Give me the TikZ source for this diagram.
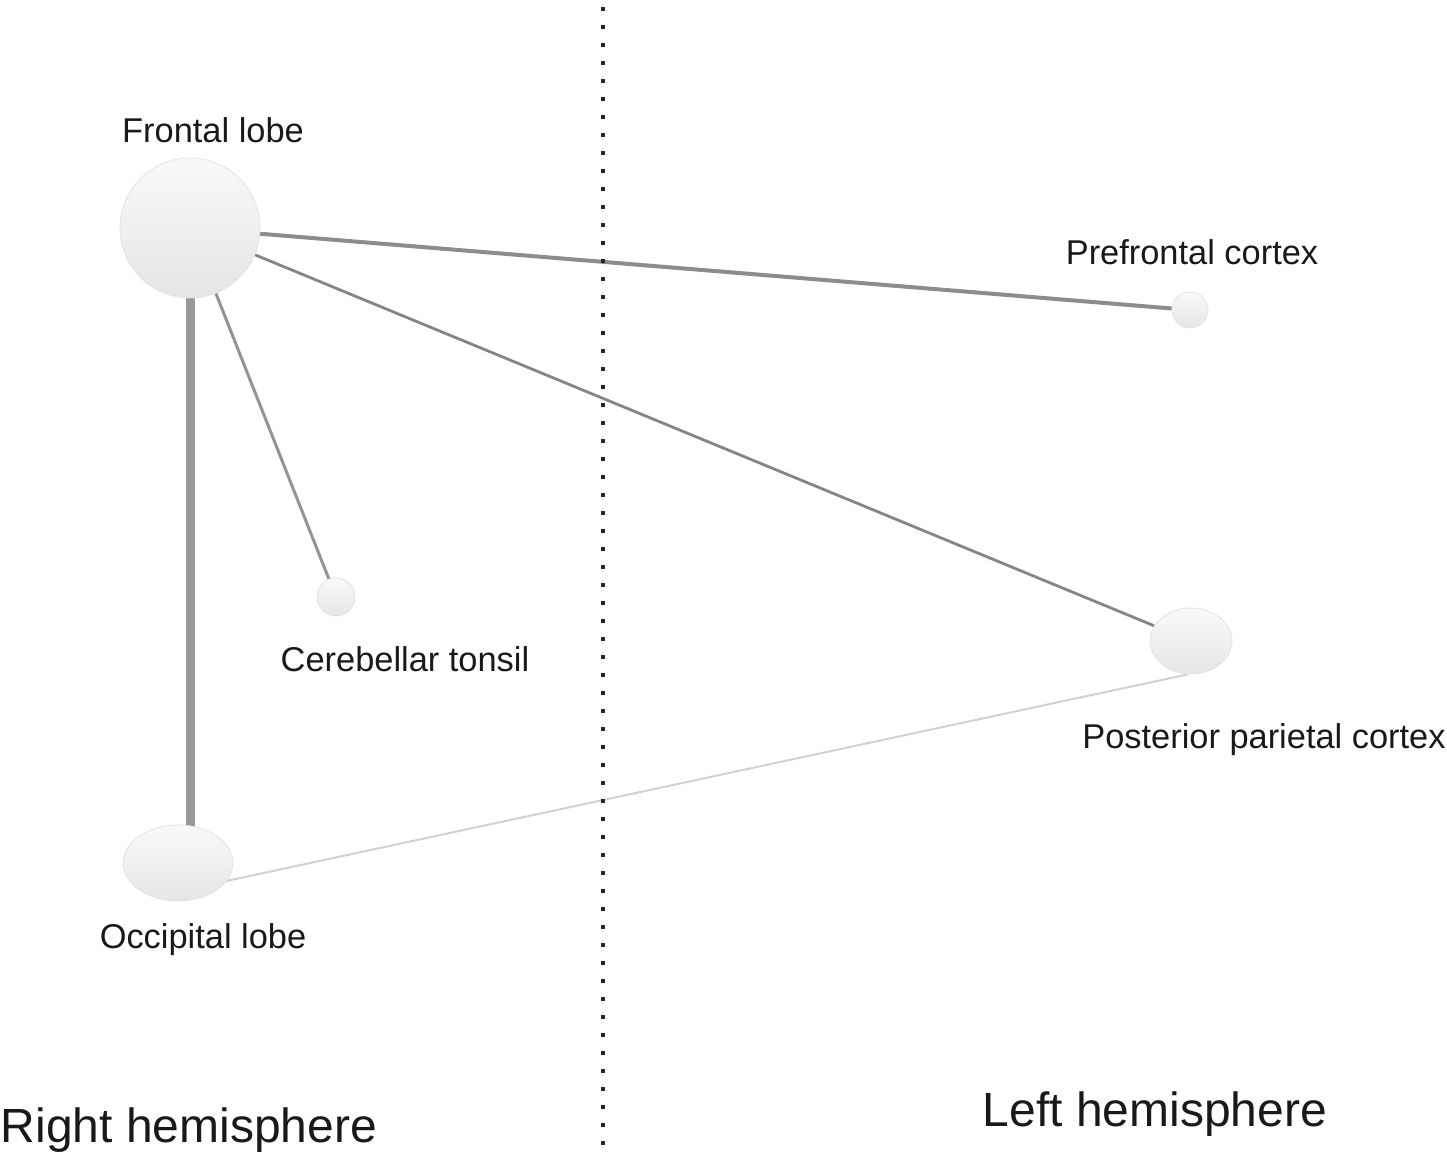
\documentclass[tikz,border=0pt]{standalone}
\usepackage{fontspec}
\setmainfont{Liberation Sans}
\usetikzlibrary{shapes.geometric,backgrounds}

\begin{document}
\begin{tikzpicture}[
            x=0.5pt, y=-0.5pt,
            region/.style = {
                ellipse, inner sep=0pt,
                top color=gray!5, bottom color=gray!20,
                draw=gray!22, line width=0.4pt
            },
            link/.style = {line width=#1},
            lobetext/.style = {font=\fontsize{17.2}{20}\selectfont, anchor=base, text=black!90},
            sidetext/.style = {font=\fontsize{24}{28}\selectfont, anchor=base, text=black!90},
            midline/.style = {line width=2pt, dash pattern=on 2pt off 7pt, black!85}
            ]
            \useasboundingbox (0,0) rectangle (1447,1159);

            % Nodes
            \node[region, minimum width=70pt, minimum height=70pt] (front) at ( 190, 228) {};
            \node[region, minimum width=18pt, minimum height=18pt] (pref)  at (1190, 310) {};
            \node[region, minimum width=19pt, minimum height=19pt] (cereb) at ( 336, 597) {};
            \node[region, minimum width=41pt, minimum height=33pt] (post)  at (1191, 641) {};
            \node[region, minimum width=55pt, minimum height=38pt] (occ)   at ( 178, 863) {};

            % Labels
            \node[lobetext] (frontname) at ( 213, 143) {Frontal lobe};
            \node[lobetext] (prefname)  at (1192, 265) {Prefrontal cortex};
            \node[lobetext] (cerebname) at ( 405, 672) {Cerebellar tonsil};
            \node[lobetext] (postname)  at (1264, 749) {Posterior parietal cortex};
            \node[lobetext] (occname)   at ( 203, 949) {Occipital lobe};
            \node[sidetext] (rightside) at ( 189, 1143) {Right hemisphere};
            \node[sidetext] (leftside)  at (1155, 1127) {Left hemisphere};

            % Links
            \begin{scope}[on background layer]
                \draw[link=4.5pt, black!40] (front) -- (front |- occ);
                \draw[link=2pt,   black!45] (front) -- (pref);
                \draw[link=1.5pt, black!42] (front) -- (cereb);
                \draw[link=1.4pt, black!48] (front) -- (post);
                \draw[link=1pt,   black!18] (occ.-20) -- (post.-95);
            \end{scope}

            % Midline
            \coordinate (mtop) at (603, 7);
            \coordinate (mbot) at (603, 1146);
            \draw[midline] (mtop) -- (mbot);
        \end{tikzpicture}
\end{document}
